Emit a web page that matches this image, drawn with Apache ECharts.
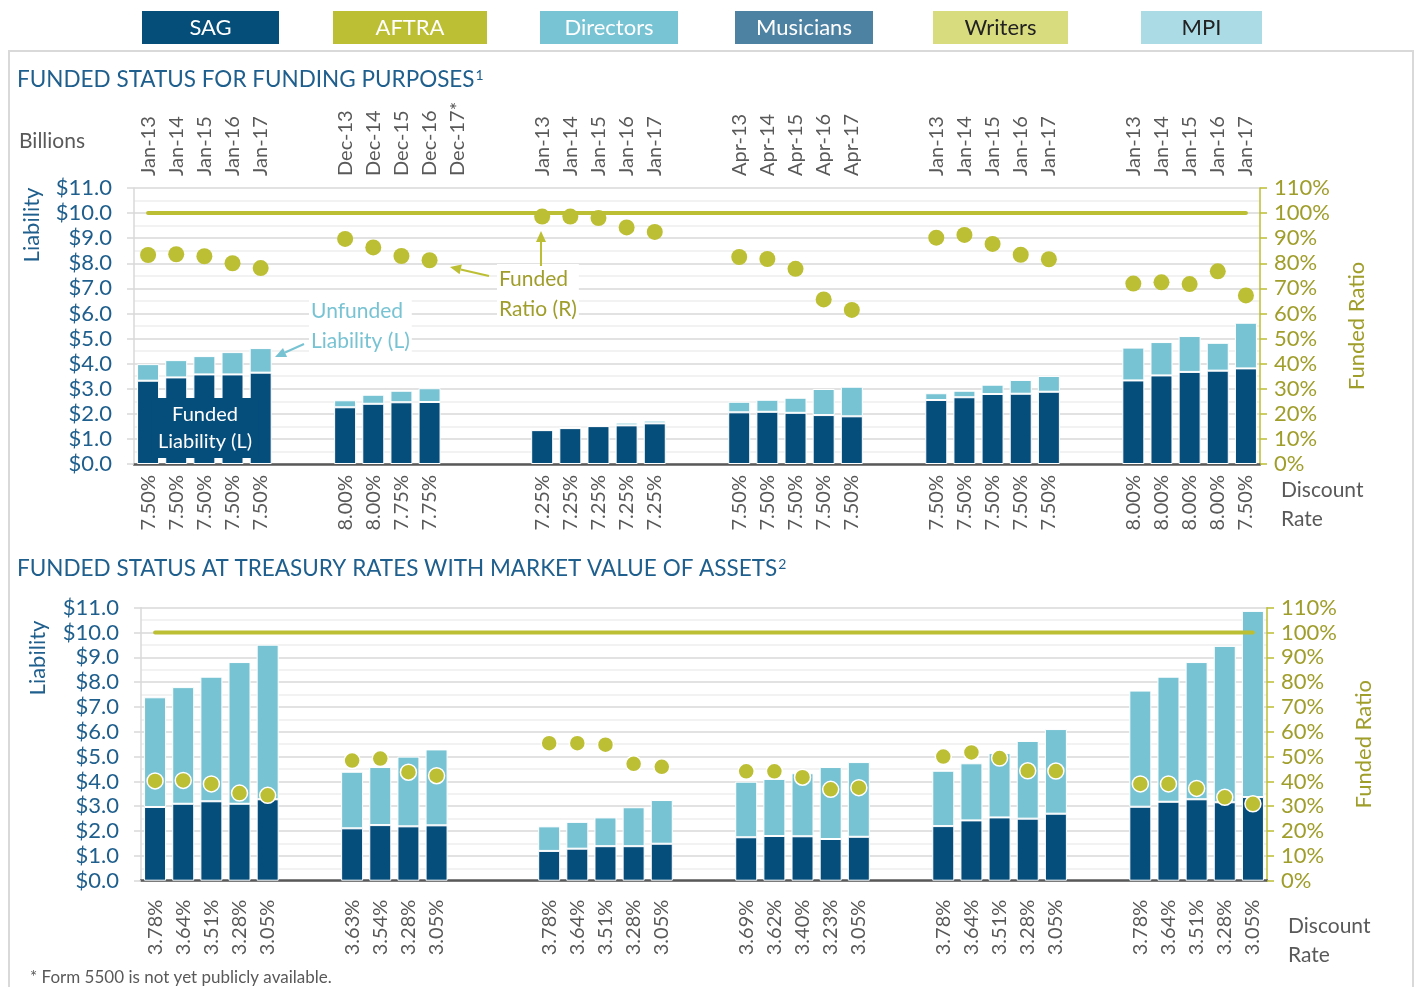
<!DOCTYPE html>
<html>
<head>
<meta charset="utf-8">
<script src="https://cdn.jsdelivr.net/npm/echarts@6/dist/echarts.min.js"></script>
<style>
  html, body { margin: 0; padding: 0; background: #fff; }
  #chart { width: 1416px; height: 987px; }
</style>
</head>
<body>
<div id="chart"></div>
<script>
// plans shown across the top, one group of bars each
const groups = ['SAG', 'AFTRA', 'Directors', 'Musicians', 'Writers', 'MPI'];
const groupColors = ['#054E7A', '#BCBF33', '#79C4D4', '#4E82A3', '#D8DC7E', '#ABDCE6'];
const groupTextColors = ['#fff', '#fff', '#fff', '#fff', '#222', '#222'];

// valuation dates (top labels)
const dates = [
  ['Jan-13', 'Jan-14', 'Jan-15', 'Jan-16', 'Jan-17'],
  ['Dec-13', 'Dec-14', 'Dec-15', 'Dec-16', 'Dec-17*'],
  ['Jan-13', 'Jan-14', 'Jan-15', 'Jan-16', 'Jan-17'],
  ['Apr-13', 'Apr-14', 'Apr-15', 'Apr-16', 'Apr-17'],
  ['Jan-13', 'Jan-14', 'Jan-15', 'Jan-16', 'Jan-17'],
  ['Jan-13', 'Jan-14', 'Jan-15', 'Jan-16', 'Jan-17']
];

// funding purposes: discount rates, liabilities ($ billions), funded ratio (%)
const fundingRates = [
  ['7.50%', '7.50%', '7.50%', '7.50%', '7.50%'],
  ['8.00%', '8.00%', '7.75%', '7.75%', ''],
  ['7.25%', '7.25%', '7.25%', '7.25%', '7.25%'],
  ['7.50%', '7.50%', '7.50%', '7.50%', '7.50%'],
  ['7.50%', '7.50%', '7.50%', '7.50%', '7.50%'],
  ['8.00%', '8.00%', '8.00%', '8.00%', '7.50%']
];
const fundingFunded = [
  [3.32, 3.45, 3.57, 3.57, 3.64],
  [2.26, 2.40, 2.46, 2.47, null],
  [1.35, 1.43, 1.51, 1.54, 1.62],
  [2.06, 2.08, 2.04, 1.95, 1.90],
  [2.55, 2.66, 2.79, 2.80, 2.88],
  [3.33, 3.53, 3.67, 3.72, 3.81]
];
const fundingTotal = [
  [3.98, 4.14, 4.30, 4.46, 4.62],
  [2.54, 2.76, 2.92, 3.02, null],
  [1.37, 1.45, 1.54, 1.65, 1.73],
  [2.48, 2.56, 2.64, 2.99, 3.08],
  [2.82, 2.92, 3.16, 3.35, 3.51],
  [4.64, 4.86, 5.10, 4.83, 5.63]
];
const fundingRatio = [
  [83.3, 83.6, 82.8, 80.0, 78.1],
  [89.7, 86.3, 82.9, 81.2, null],
  [98.6, 98.6, 98.0, 94.3, 92.5],
  [82.5, 81.7, 77.8, 65.6, 61.4],
  [90.2, 91.3, 87.7, 83.4, 81.6],
  [71.9, 72.4, 71.7, 76.8, 67.2]
];

// treasury rates with market value of assets
const treasuryRates = [
  ['3.78%', '3.64%', '3.51%', '3.28%', '3.05%'],
  ['3.63%', '3.54%', '3.28%', '3.05%', ''],
  ['3.78%', '3.64%', '3.51%', '3.28%', '3.05%'],
  ['3.69%', '3.62%', '3.40%', '3.23%', '3.05%'],
  ['3.78%', '3.64%', '3.51%', '3.28%', '3.05%'],
  ['3.78%', '3.64%', '3.51%', '3.28%', '3.05%']
];
const treasuryFunded = [
  [2.97, 3.10, 3.20, 3.10, 3.28],
  [2.11, 2.24, 2.19, 2.23, null],
  [1.20, 1.29, 1.39, 1.39, 1.49],
  [1.75, 1.80, 1.79, 1.68, 1.77],
  [2.20, 2.43, 2.55, 2.50, 2.70],
  [2.98, 3.18, 3.28, 3.16, 3.37]
];
const treasuryTotal = [
  [7.39, 7.80, 8.22, 8.81, 9.51],
  [4.39, 4.58, 5.00, 5.29, null],
  [2.19, 2.37, 2.55, 2.96, 3.25],
  [3.99, 4.10, 4.33, 4.58, 4.78],
  [4.43, 4.73, 5.14, 5.63, 6.11],
  [7.66, 8.22, 8.81, 9.46, 10.87]
];
const treasuryRatio = [
  [40.2, 40.4, 39.0, 35.3, 34.4],
  [48.4, 49.2, 43.7, 42.3, null],
  [55.4, 55.4, 54.8, 47.1, 45.9],
  [44.1, 44.1, 41.7, 36.8, 37.5],
  [50.0, 51.7, 49.4, 44.3, 44.2],
  [39.0, 39.0, 37.2, 33.6, 31.0]
];
const fullFunding = 100;

const DARK = '#054D7B', LIGHT = '#78C3D3', OLIVE = '#BCBF33', OLIVE_TXT = '#A09E2B';
const BLUE_TXT = '#1F5F8D', GRAY_TXT = '#595959';
const FONT = 'Lato';

// flatten the groups, two empty slots between groups
function spread(arr, fill) {
  const out = [];
  arr.forEach((g, i) => {
    out.push(...g);
    if (i < arr.length - 1) out.push(fill, fill);
  });
  return out;
}
function unfunded(total, funded) {
  return total.map((g, i) => g.map((v, j) => v == null ? null : +(v - funded[i][j]).toFixed(2)));
}

const topDates = spread(dates, '');
const topRates = spread(fundingRates, '');
const botRates = spread(treasuryRates, '');
const lineData = topRates.map(() => fullFunding);

function yAxes(gridIndex) {
  return [{
    type: 'value', gridIndex, min: 0, max: 11, interval: 1,
    axisLine: { show: true, lineStyle: { color: '#D9D9D9', width: 1.5 } },
    axisTick: { show: true, length: 7, lineStyle: { color: '#D9D9D9', width: 1.5 } },
    axisLabel: { color: BLUE_TXT, fontFamily: FONT, fontSize: 22, margin: 22, formatter: v => '$' + v.toFixed(1) },
    splitLine: { lineStyle: { color: '#D9D9D9', width: 1.5 } },
    minorTick: { show: false, splitNumber: 2 },
    minorSplitLine: { show: true, lineStyle: { color: '#EEEEEE', width: 1.5 } }
  }, {
    type: 'value', gridIndex, min: 0, max: 110, interval: 10, position: 'right',
    axisLine: { show: true, lineStyle: { color: OLIVE, width: 1.5 } },
    axisTick: { show: true, length: 7, lineStyle: { color: OLIVE, width: 1.5 } },
    axisLabel: { color: OLIVE_TXT, fontFamily: FONT, fontSize: 22, margin: 14, formatter: '{value}%' },
    splitLine: { show: false },
    name: 'Funded Ratio', nameLocation: 'middle', nameRotate: 90, nameGap: 86,
    nameTextStyle: { color: OLIVE_TXT, fontFamily: FONT, fontSize: 22 }
  }];
}

function series(gridIdx, funded, total, ratio, white) {
  const xi = gridIdx === 0 ? 0 : 2;
  const yi = gridIdx * 2;
  return [{
    type: 'bar', xAxisIndex: xi, yAxisIndex: yi, stack: 's' + gridIdx, barWidth: 22,
    data: spread(funded, null),
    itemStyle: { color: DARK, borderColor: '#fff', borderWidth: 1 }
  }, {
    type: 'bar', xAxisIndex: xi, yAxisIndex: yi, stack: 's' + gridIdx, barWidth: 22,
    data: spread(unfunded(total, funded), null),
    itemStyle: { color: LIGHT, borderColor: '#fff', borderWidth: 1 }
  }, {
    type: 'line', xAxisIndex: xi, yAxisIndex: yi + 1, data: lineData, symbol: 'none', z: 4,
    lineStyle: { color: OLIVE, width: 4, cap: 'round' }
  }, {
    type: 'scatter', xAxisIndex: xi, yAxisIndex: yi + 1, data: spread(ratio, null), z: 5,
    symbolSize: 16,
    itemStyle: { color: OLIVE, borderColor: white ? '#fff' : 'rgba(0,0,0,0)', borderWidth: 1.5, opacity: 1 }
  }];
}

const chart = echarts.init(document.getElementById('chart'));

const legendGraphics = [];
const boxes = [[142, 137], [333, 154], [540, 138], [735, 138], [933, 135], [1141, 121]];
groups.forEach((g, i) => {
  legendGraphics.push({
    type: 'rect', shape: { x: boxes[i][0], y: 11, width: boxes[i][1], height: 33 },
    style: { fill: groupColors[i] }
  }, {
    type: 'text', x: boxes[i][0] + boxes[i][1] / 2, y: 28,
    style: { text: g, fill: groupTextColors[i], font: '22px ' + FONT, textAlign: 'center', textVerticalAlign: 'middle' }
  });
});

function vText(text, x, y, color) {
  return { type: 'text', x, y, rotation: Math.PI / 2,
    style: { text, fill: color, font: '22px ' + FONT, textAlign: 'center', textVerticalAlign: 'middle' } };
}
function txt(text, x, y, color, size, extra) {
  return { type: 'text', x, y,
    style: Object.assign({ text, fill: color, font: size + 'px ' + FONT, textVerticalAlign: 'middle' }, extra || {}) };
}
function title(text, sup, x, y) {
  return { type: 'text', x, y,
    style: { text: text + '{s|' + sup + '}', fill: BLUE_TXT, font: '22.5px ' + FONT, textVerticalAlign: 'middle',
      rich: { s: { fontSize: 14, fontFamily: FONT, fill: BLUE_TXT, verticalAlign: 'top', padding: [0, 0, 10, 1] } } } };
}
function arrow(x1, y1, x2, y2, color) {
  const a = Math.atan2(y2 - y1, x2 - x1), L = 11, W = 5;
  const bx = x2 - L * Math.cos(a), by = y2 - L * Math.sin(a);
  return [{
    type: 'line', shape: { x1, y1, x2: bx, y2: by }, style: { stroke: color, lineWidth: 2 }, z: 20
  }, {
    type: 'polygon', z: 20,
    shape: { points: [[x2, y2], [bx + W * Math.sin(a), by - W * Math.cos(a)], [bx - W * Math.sin(a), by + W * Math.cos(a)]] },
    style: { fill: color }
  }];
}

const option = {
  animation: false,
  grid: [
    { left: 134, right: 156, top: 188, height: 276 },
    { left: 141, right: 149, top: 607.7, height: 273 }
  ],
  xAxis: [{
    type: 'category', gridIndex: 0, data: topRates, position: 'bottom',
    axisLine: { lineStyle: { color: '#595959', width: 2.5 } },
    axisTick: { show: false },
    axisLabel: { interval: 0, rotate: 90, margin: 11, color: GRAY_TXT, fontFamily: FONT, fontSize: 20 }
  }, {
    type: 'category', gridIndex: 0, data: topDates, position: 'top',
    axisLine: { show: false }, axisTick: { show: false },
    axisLabel: { interval: 0, rotate: 90, margin: 12, color: GRAY_TXT, fontFamily: FONT, fontSize: 20 }
  }, {
    type: 'category', gridIndex: 1, data: botRates, position: 'bottom',
    axisLine: { lineStyle: { color: '#595959', width: 2.5 } },
    axisTick: { show: false },
    axisLabel: { interval: 0, rotate: 90, margin: 19, color: GRAY_TXT, fontFamily: FONT, fontSize: 20 }
  }],
  yAxis: [...yAxes(0), ...yAxes(1)],
  series: [
    ...series(0, fundingFunded, fundingTotal, fundingRatio, false),
    ...series(1, treasuryFunded, treasuryTotal, treasuryRatio, true)
  ],
  graphic: [
    ...legendGraphics,
    { type: 'rect', shape: { x: 9, y: 51, width: 1404, height: 945 }, style: { fill: 'none', stroke: '#D9D9D9', lineWidth: 2 } },
    title('FUNDED STATUS FOR FUNDING PURPOSES', '1', 17, 80),
    txt('Billions', 19, 141, GRAY_TXT, 21),
    vText('Liability', 32, 225, BLUE_TXT),
    txt('Discount', 1281, 490, GRAY_TXT, 21),
    txt('Rate', 1281, 519, GRAY_TXT, 21),
    title('FUNDED STATUS AT TREASURY RATES WITH MARKET VALUE OF ASSETS', '2', 17, 569),
    vText('Liability', 38, 658, BLUE_TXT),
    txt('Discount', 1288, 926, GRAY_TXT, 21),
    txt('Rate', 1288, 955, GRAY_TXT, 21),
    txt('* Form 5500 is not yet publicly available.', 30, 978, GRAY_TXT, 17),
    // annotations
    Object.assign(txt('Funded\nLiability (L)', 205, 428, '#fff', 20,
      { textAlign: 'center', lineHeight: 27, backgroundColor: DARK, padding: [4, 6, 2, 6] }), { z: 100 }),
    Object.assign(txt('Unfunded\nLiability (L)', 309, 326, LIGHT, 21,
      { lineHeight: 30, backgroundColor: '#fff', padding: [0, 2] }), { z: 19 }),
    ...arrow(304, 344, 275, 357, LIGHT),
    Object.assign(txt('Funded\nRatio (R)', 497, 294, OLIVE_TXT, 21,
      { lineHeight: 30, backgroundColor: '#fff', padding: [0, 2] }), { z: 19 }),
    ...arrow(489, 276, 450, 267, OLIVE),
    ...arrow(541, 266, 541, 231, OLIVE)
  ]
};
chart.setOption(option);
</script>
</body>
</html>
